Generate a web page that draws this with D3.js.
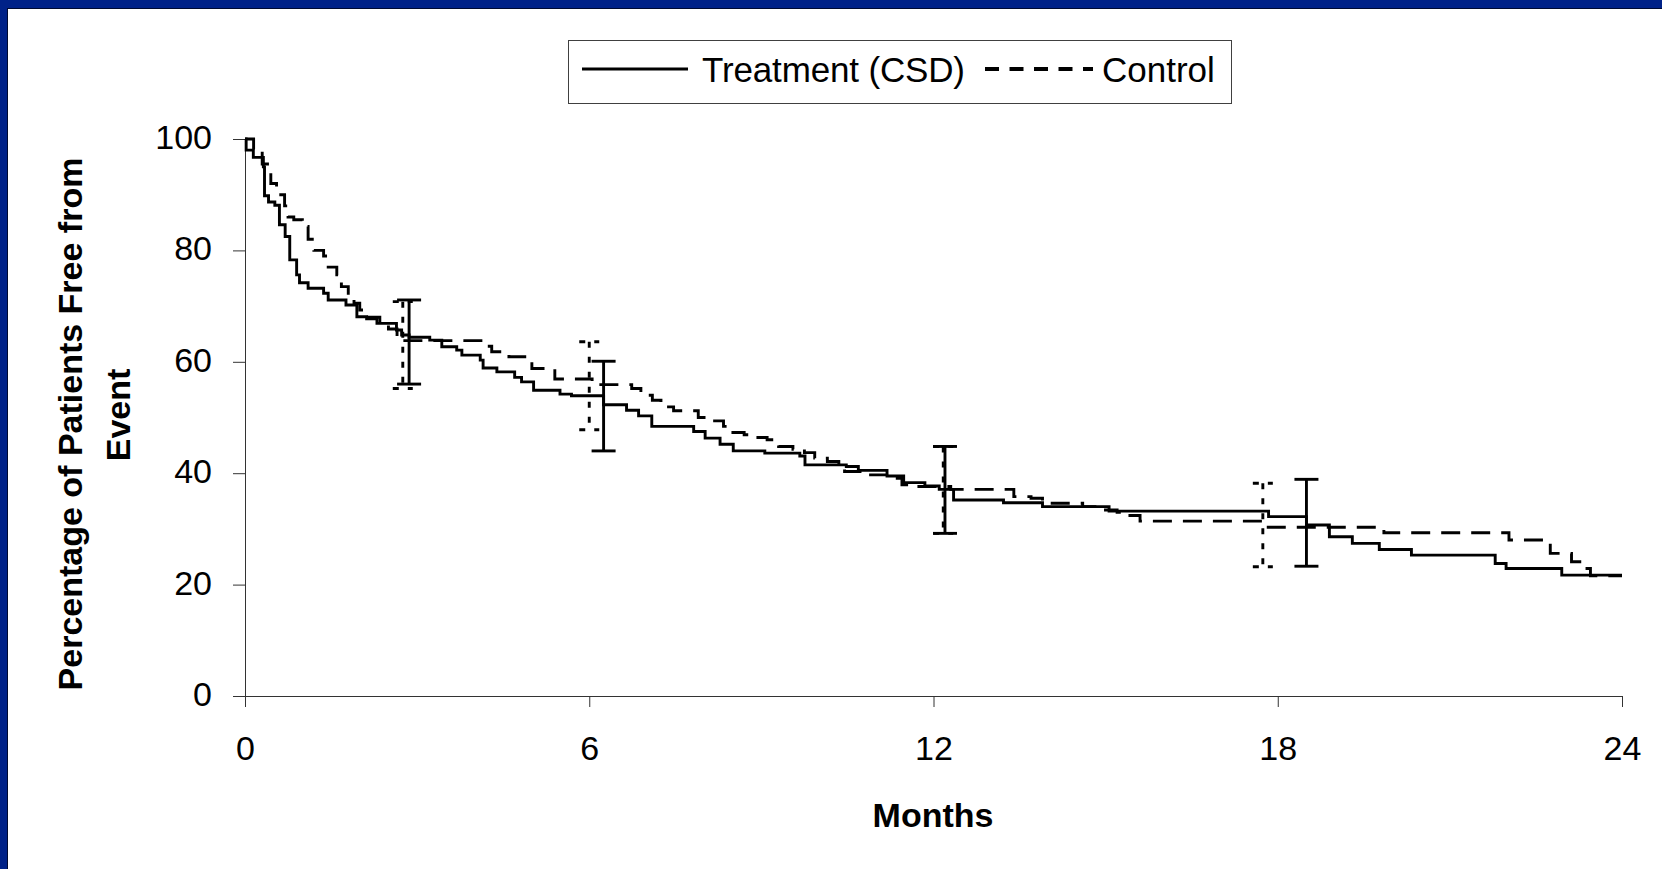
<!DOCTYPE html>
<html>
<head>
<meta charset="utf-8">
<script src="https://cdn.jsdelivr.net/npm/d3@7"></script>
<style>
  body { margin: 0; background: #fff; }
  text { font-family: "Liberation Sans", Arial, sans-serif; fill: #000; }
</style>
</head>
<body>
<svg id="main-svg" width="1662" height="869"></svg>
<script>
// treatment (CSD) Kaplan-Meier steps: month, percent free from event
var treatMonth = [0, 0.02, 0.145, 0.32, 0.34, 0.41, 0.52, 0.6, 0.7, 0.78, 0.9, 0.95, 1.1, 1.37, 1.45, 1.76, 1.95, 2.12, 2.3, 2.64, 2.73, 2.86,
  3.22, 3.43, 3.69, 3.78, 4.1, 4.15, 4.39, 4.7, 4.82, 5.03, 5.49, 5.69, 6.25, 6.65, 6.86, 7.09, 7.82, 8.02, 8.28, 8.51, 9.06, 9.67, 9.76,
  10.48, 10.69, 11.19, 11.48, 11.85, 12.1, 12.35, 13.22, 13.9, 15.06, 17.84, 18.5, 18.9, 19.3, 19.77, 20.33, 21.79, 21.98, 22.95, 24];
var treatPct = [100, 98, 96.7, 95.0, 89.8, 88.7, 88.1, 84.6, 82.5, 78.3, 75.6, 74.2, 73.2, 72.3, 71.1, 70.2, 68.1, 67.7, 66.9, 65.7, 64.8, 64.4,
  63.9, 62.7, 62.1, 61.2, 60.3, 58.9, 58.2, 57.2, 56.4, 54.9, 54.2, 53.9, 52.3, 51.3, 50.3, 48.4, 47.5, 46.3, 45.2, 44.0, 43.6, 43.1, 41.5,
  41.2, 40.5, 39.5, 38.3, 37.7, 37.1, 35.2, 34.7, 34.0, 33.2, 32.2, 30.7, 28.6, 27.4, 26.3, 25.3, 23.8, 22.9, 21.7, 21.7];

// control steps
var ctrlMonth = [0, 0.15, 0.3, 0.45, 0.55, 0.69, 0.75, 0.85, 1.0, 1.1, 1.2, 1.37, 1.45, 1.6, 1.68, 1.8, 1.9, 2.0, 2.1, 2.35, 2.5, 2.65,
  4.2, 4.3, 4.6, 5.0, 5.4, 6.05, 6.74, 6.9, 7.1, 7.25, 7.47, 7.9, 8.1, 8.34, 8.45, 8.7, 8.9, 9.1, 9.3, 9.55, 9.75, 9.93, 10.15, 10.35,
  10.45, 10.75, 11.25, 11.45, 11.65, 12.3, 13.4, 13.7, 13.9, 14.6, 14.9, 15.2, 15.35, 15.6, 17.74, 19.85, 22.03, 22.75, 23.12, 23.3, 23.45, 24];
var ctrlPct = [100, 98, 95.5, 92, 90, 88, 86, 85.5, 84.3, 82, 80, 79, 77, 75.6, 73.5, 72.3, 70.5, 69.3, 68, 66.9, 65.9, 63.8,
  62.8, 61.8, 60.9, 58.8, 56.9, 55.9, 55.2, 54.0, 53.1, 51.9, 51.2, 50.0, 49.4, 48.4, 47.3, 46.9, 46.4, 46.0, 44.8, 44.3, 43.7, 42.7, 42.1, 41.4,
  40.3, 39.7, 39.1, 37.9, 37.6, 37.1, 35.8, 35.5, 34.6, 34.0, 33.4, 33.0, 32.4, 31.4, 30.3, 29.3, 28.0, 25.6, 24.1, 22.9, 21.6, 21.6];

// confidence bars
var treatBarMonth = [2.86, 6.25, 12.2, 18.5];
var treatBarHi = [71.1, 60.1, 44.8, 38.9];
var treatBarLo = [56.0, 44.0, 29.2, 23.3];
var ctrlBarMonth = [2.75, 6.0, 12.17, 17.74];
var ctrlBarHi = [70.8, 63.6, 44.8, 38.2];
var ctrlBarLo = [55.2, 47.8, 29.2, 23.2];

var xTicks = [0, 6, 12, 18, 24];
var yTicks = [0, 20, 40, 60, 80, 100];

var svg = d3.select("#main-svg");

// slide frame
svg.append("rect").attr("x", 0).attr("y", 0).attr("width", 1662).attr("height", 8).attr("fill", "#002288");
svg.append("rect").attr("x", 0).attr("y", 0).attr("width", 7).attr("height", 869).attr("fill", "#002288");
svg.append("line").attr("x1", 7).attr("x2", 1662).attr("y1", 8.5).attr("y2", 8.5).attr("stroke", "#000a30");
svg.append("line").attr("x1", 7.5).attr("x2", 7.5).attr("y1", 8).attr("y2", 869).attr("stroke", "#000a30");

var x = d3.scaleLinear().domain([0, 24]).range([245, 1622]);
var y = d3.scaleLinear().domain([0, 100]).range([696, 139]);

var xAxis = svg.append("g")
    .attr("transform", "translate(0," + y(0) + ")")
    .call(d3.axisBottom(x).tickValues(xTicks).tickSize(11).tickSizeOuter(0).tickPadding(29));
var yAxis = svg.append("g")
    .attr("transform", "translate(" + x(0) + ",0)")
    .call(d3.axisLeft(y).tickValues(yTicks).tickSize(12).tickSizeOuter(0).tickPadding(21));

[xAxis, yAxis].forEach(function(g){
  g.selectAll("path, line").attr("stroke", "#333").attr("stroke-width", 1);
  g.selectAll("text").style("font-size", "34px").style("fill", "#000")
    .style("font-family", "'Liberation Sans', Arial, sans-serif");
});
yAxis.selectAll("text").attr("dy", "0.28em");

function zip(a, b) { return a.map(function(d, i){ return [d, b[i]]; }); }

var line = d3.line()
    .x(function(d){ return x(d[0]); })
    .y(function(d){ return y(d[1]); })
    .curve(d3.curveStepAfter);

svg.append("path")
    .datum(zip(ctrlMonth, ctrlPct))
    .attr("d", line)
    .attr("fill", "none")
    .attr("stroke", "#000")
    .attr("stroke-width", 2.9)
    .attr("stroke-dasharray", "19,11");

svg.append("path")
    .datum(zip(treatMonth, treatPct))
    .attr("d", line)
    .attr("fill", "none")
    .attr("stroke", "#000")
    .attr("stroke-width", 2.9);

// error bars
function bars(months, hi, lo, cap, dash) {
  var g = svg.append("g")
      .attr("stroke", "#000")
      .attr("stroke-width", 2.9)
      .attr("stroke-dasharray", dash);
  months.forEach(function(m, i){
    g.append("line").attr("x1", x(m)).attr("x2", x(m)).attr("y1", y(hi[i])).attr("y2", y(lo[i]));
    g.append("line").attr("x1", x(m) - cap).attr("x2", x(m) + cap).attr("y1", y(hi[i])).attr("y2", y(hi[i]));
    g.append("line").attr("x1", x(m) - cap).attr("x2", x(m) + cap).attr("y1", y(lo[i])).attr("y2", y(lo[i]));
  });
}
bars(ctrlBarMonth, ctrlBarHi, ctrlBarLo, 10, "6,9");
bars(treatBarMonth, treatBarHi, treatBarLo, 12, null);

// axis titles
svg.append("text")
    .attr("x", 933).attr("y", 827)
    .attr("text-anchor", "middle")
    .style("font-size", "34px").style("font-weight", "bold")
    .text("Months");

svg.append("text")
    .attr("transform", "translate(82,424) rotate(-90)")
    .attr("text-anchor", "middle")
    .style("font-size", "34px").style("font-weight", "bold")
    .text("Percentage of Patients Free from");
svg.append("text")
    .attr("transform", "translate(130,415) rotate(-90)")
    .attr("text-anchor", "middle")
    .style("font-size", "34px").style("font-weight", "bold")
    .text("Event");

// legend
var legend = svg.append("g");
legend.append("rect")
    .attr("x", 568.5).attr("y", 40.5).attr("width", 663).attr("height", 63)
    .attr("fill", "#fff").attr("stroke", "#404040").attr("stroke-width", 1);
legend.append("line")
    .attr("x1", 582).attr("x2", 688).attr("y1", 69).attr("y2", 69)
    .attr("stroke", "#000").attr("stroke-width", 3);
legend.append("text")
    .attr("x", 702).attr("y", 82)
    .style("font-size", "35px")
    .attr("textLength", 263)
    .text("Treatment (CSD)");
legend.append("line")
    .attr("x1", 985).attr("x2", 1093).attr("y1", 69).attr("y2", 69)
    .attr("stroke", "#000").attr("stroke-width", 4)
    .attr("stroke-dasharray", "14,10.5");
legend.append("text")
    .attr("x", 1102).attr("y", 82)
    .style("font-size", "35px")
    .text("Control");
</script>
</body>
</html>
